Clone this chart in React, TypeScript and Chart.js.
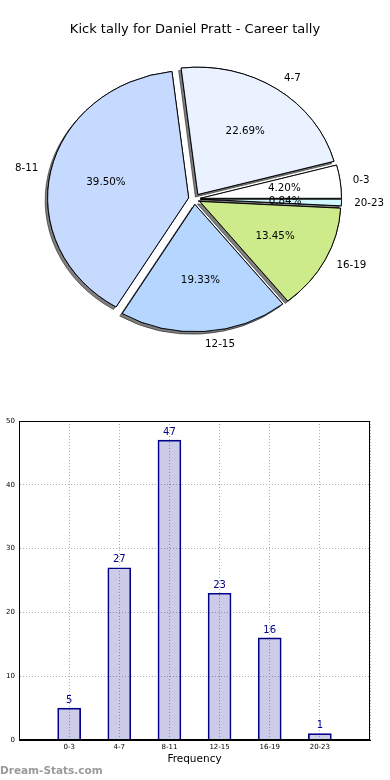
import React, { useEffect, useRef } from 'react';
import { Chart, registerables } from 'chart.js';

Chart.register(...registerables);

// ---------- data ----------
const TITLE = 'Kick tally for Daniel Pratt - Career tally';
const categories = ['0-3', '4-7', '8-11', '12-15', '16-19', '20-23'];
const kicks = [5, 27, 47, 23, 16, 1];
const sliceColors = ['#FFFFFF', '#EAF1FF', '#C6D9FF', '#B5D7FF', '#CEEB8C', '#D0F7FF'];
const yTickMin = 0;
const yTickMax = 50;
const yTickStep = 10;
const xAxisTitle = 'Frequency';
const watermark = 'Dream-Stats.com';

// ---------- style ----------
const FONT = '"DejaVu Sans", sans-serif';
const EXPLODE = 6;
const PIE_RADIUS = 141;
const Y_SCALE = 0.903;
const NAVY = '#00008B';

const piePlugin = {
  id: 'mplPie',
  beforeDatasetDraw(chart: any, args: any) {
    const arcs = args.meta.data;
    if (!arcs.length) return false;
    const ctx = chart.ctx;
    const cx = arcs[0].x;
    const cy = arcs[0].y;
    const drawAll = (shadow: boolean) => {
      ctx.save();
      ctx.translate(cx, cy);
      ctx.scale(1, Y_SCALE);
      ctx.translate(-cx, -cy);
      arcs.forEach((arc: any) => {
        const mid = (arc.startAngle + arc.endAngle) / 2;
        ctx.save();
        ctx.translate(Math.cos(mid) * EXPLODE, Math.sin(mid) * EXPLODE);
        if (shadow) {
          ctx.shadowColor = 'rgba(0,0,0,0.5)';
          ctx.shadowOffsetX = -2.5;
          ctx.shadowOffsetY = 2.5;
          ctx.shadowBlur = 0;
        }
        arc.draw(ctx);
        ctx.restore();
      });
      ctx.restore();
    };
    drawAll(true);
    drawAll(false);
    return false;
  },
  afterDraw(chart: any) {
    const ctx = chart.ctx;
    const meta = chart.getDatasetMeta(0);
    const values: number[] = chart.data.datasets[0].data;
    const labels: string[] = chart.data.labels;
    const total = values.reduce((a, b) => a + b, 0);
    ctx.save();
    ctx.fillStyle = '#000';
    ctx.textBaseline = 'middle';
    ctx.font = `10.3px ${FONT}`;
    meta.data.forEach((arc: any, i: number) => {
      const mid = (arc.startAngle + arc.endAngle) / 2;
      const c = Math.cos(mid);
      const s = Math.sin(mid);
      const ex = arc.x + c * EXPLODE;
      const ey = arc.y + s * EXPLODE * Y_SCALE;
      const r = arc.outerRadius;
      ctx.textAlign = c >= 0 ? 'left' : 'right';
      ctx.fillText(labels[i], ex + c * 1.09 * r, ey + s * 1.1 * r * Y_SCALE);
      ctx.textAlign = 'center';
      const pct = ((values[i] / total) * 100).toFixed(2) + '%';
      ctx.fillText(pct, ex + c * 0.6 * r, ey + s * 0.6 * r * Y_SCALE);
    });
    ctx.font = `13px ${FONT}`;
    ctx.textAlign = 'center';
    ctx.fillText(TITLE, 195, 30);
    ctx.restore();
  },
};

const barPlugin = {
  id: 'mplBar',
  afterDatasetsDraw(chart: any) {
    const ctx = chart.ctx;
    const a = chart.chartArea;
    const meta = chart.getDatasetMeta(0);
    ctx.save();
    ctx.fillStyle = NAVY;
    ctx.font = `10px ${FONT}`;
    ctx.textAlign = 'center';
    ctx.textBaseline = 'middle';
    meta.data.forEach((bar: any, i: number) => {
      ctx.fillText(String(kicks[i]), bar.x, bar.y - 8);
    });
    ctx.strokeStyle = '#000';
    ctx.lineWidth = 1;
    const l = Math.round(a.left) + 0.5;
    const t = Math.round(a.top) + 0.5;
    const rr = Math.round(a.right) - 0.5;
    const b = Math.round(a.bottom) - 0.5;
    ctx.strokeRect(l, t, rr - l, b - t);
    ctx.restore();
  },
};

export default function App() {
  const pieRef = useRef<HTMLCanvasElement>(null);
  const barRef = useRef<HTMLCanvasElement>(null);

  useEffect(() => {
    const pie = new Chart(pieRef.current as HTMLCanvasElement, {
      type: 'pie',
      data: {
        labels: [...categories].reverse(),
        datasets: [
          {
            data: [...kicks].reverse(),
            backgroundColor: [...sliceColors].reverse(),
            borderColor: '#000',
            borderWidth: 1,
            offset: 0,
            hoverOffset: 0,
          },
        ],
      },
      options: {
        responsive: false,
        animation: false,
        rotation: 90,
        radius: PIE_RADIUS,
        layout: { padding: { left: 0, right: 1, top: 22, bottom: 4 } },
        plugins: { legend: { display: false }, tooltip: { enabled: false }, title: { display: false } },
      } as any,
      plugins: [piePlugin],
    });

    const bar = new Chart(barRef.current as HTMLCanvasElement, {
      type: 'bar',
      data: {
        datasets: [
          {
            data: kicks.map((v, i) => ({ x: i, y: v })),
            backgroundColor: 'rgba(0,0,139,0.2)',
            borderColor: NAVY,
            borderWidth: 1,
            barThickness: 23,
          },
        ],
      },
      options: {
        responsive: false,
        animation: false,
        layout: { padding: { left: 0, right: 20, top: 11, bottom: 0 } },
        plugins: { legend: { display: false }, tooltip: { enabled: false } },
        scales: {
          x: {
            type: 'linear',
            min: -1,
            max: categories.length,
            offset: false,
            afterFit: (s: any) => {
              s.height = 40;
            },
            ticks: {
              stepSize: 1,
              autoSkip: false,
              maxRotation: 0,
              padding: 3,
              color: '#000',
              font: { family: FONT, size: 7 },
              callback: (v: any) => categories[v as number] ?? '',
            },
            grid: { color: '#b0b0b0', lineWidth: 1, drawTicks: false, offset: false },
            border: { display: true, color: '#000', dash: [1, 2] },
            title: {
              display: true,
              text: xAxisTitle,
              color: '#000',
              font: { family: FONT, size: 10.5 },
              padding: { top: 0, bottom: 14 },
            },
          },
          y: {
            min: yTickMin,
            max: yTickMax,
            afterFit: (s: any) => {
              s.width = 19;
            },
            ticks: {
              stepSize: yTickStep,
              padding: 4,
              color: '#000',
              font: { family: FONT, size: 7 },
            },
            grid: { color: '#b0b0b0', lineWidth: 1, drawTicks: false },
            border: { display: true, color: '#000', dash: [1, 2] },
          },
        },
      } as any,
      plugins: [barPlugin],
    });

    return () => {
      pie.destroy();
      bar.destroy();
    };
  }, []);

  return (
    <div style={{ position: 'absolute', left: 0, top: 0, width: 390, height: 780, background: '#fff' }}>
      <canvas ref={pieRef} width={390} height={380} style={{ position: 'absolute', left: 0, top: 0 }} />
      <canvas ref={barRef} width={390} height={370} style={{ position: 'absolute', left: 0, top: 410 }} />
      <div
        style={{
          position: 'absolute',
          left: 0,
          top: 764,
          font: `bold 10.5px ${FONT}`,
          lineHeight: '12px',
          color: '#9a9a9a',
          whiteSpace: 'nowrap',
        }}
      >
        {watermark}
      </div>
    </div>
  );
}
